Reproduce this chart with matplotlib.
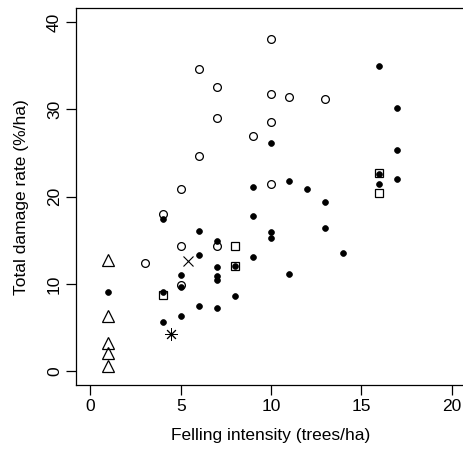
import matplotlib
matplotlib.use('Agg')
import matplotlib.pyplot as plt

plt.rcParams['font.family'] = ['Liberation Sans', 'DejaVu Sans']

# open circles
circ_x = [10, 6, 7, 10, 11, 13, 7, 10, 9, 6, 10, 5, 4, 7, 5, 3, 5]
circ_y = [38.0, 34.6, 32.5, 31.8, 31.4, 31.2, 29.05, 28.5, 26.95, 24.6, 21.5, 20.85, 18.0, 14.4, 14.4, 12.4, 9.9]

# filled dots
dot_x = [16, 17, 10, 17, 16, 16, 17, 11, 9, 12, 13, 4, 9, 13, 6, 10, 10, 7, 6, 14,
         9, 7, 8, 11, 5, 7, 7, 5, 1, 4, 8, 6, 7, 5, 4]
dot_y = [35.0, 30.1, 26.1, 25.35, 22.6, 21.5, 22.0, 21.8, 21.1, 20.85, 19.35, 17.4, 17.8, 16.45, 16.07, 15.9, 15.3, 14.9, 13.3, 13.6,
         13.05, 12.0, 12.1, 11.2, 11.0, 10.95, 10.4, 9.6, 9.08, 9.05, 8.66, 7.48, 7.25, 6.3, 5.65]

# squares
sq_x = [16, 16, 8, 8, 4]
sq_y = [22.7, 20.4, 14.3, 12.1, 8.74]

# triangles
tri_x = [1, 1, 1, 1, 1]
tri_y = [12.75, 6.33, 3.2, 2.06, 0.64]

# cross and asterisk
cross_x = [5.4]
cross_y = [12.6]
star_x = [4.45]
star_y = [4.3]

fig = plt.figure(figsize=(4.64, 4.5), dpi=100)
ax = fig.add_axes([76 / 464, 1 - 385.3 / 450, 390 / 464, 377.3 / 450])

ax.plot(circ_x, circ_y, 'o', ms=5.6, mfc='white', mec='black', mew=0.9, ls='none', zorder=3)
ax.plot(sq_x, sq_y, 's', ms=6.4, mfc='none', mec='black', mew=0.9, ls='none', zorder=3)
ax.plot(tri_x, tri_y, '^', ms=8, mfc='none', mec='black', mew=0.9, ls='none', zorder=3)
ax.plot(cross_x, cross_y, 'x', ms=6.5, mec='black', mew=0.8, ls='none', zorder=3)
ax.plot(star_x, star_y, marker=(8, 2, 0), ms=9, mec='black', mew=0.7, ls='none', zorder=3)
ax.plot(dot_x, dot_y, 'o', ms=4.2, mfc='black', mec='black', mew=0.5, ls='none', zorder=4)

ax.set_xlim(-0.8, 20.8)
ax.set_ylim(-1.6, 41.6)
ax.set_xticks([0, 5, 10, 15, 20])
ax.set_yticks([0, 10, 20, 30, 40])
ax.tick_params(direction='out', length=7, width=0.9, labelsize=12.5, pad=3, colors='black')
for lab in ax.get_yticklabels():
    lab.set_rotation(90)
    lab.set_va('center')
for s in ax.spines.values():
    s.set_linewidth(0.9)
ax.spines['right'].set_visible(False)

ax.set_xlabel('Felling intensity (trees/ha)', fontsize=12.5, labelpad=10)
ax.set_ylabel('Total damage rate (%/ha)', fontsize=12.5, labelpad=13)

fig.savefig('out.png', dpi=100)
